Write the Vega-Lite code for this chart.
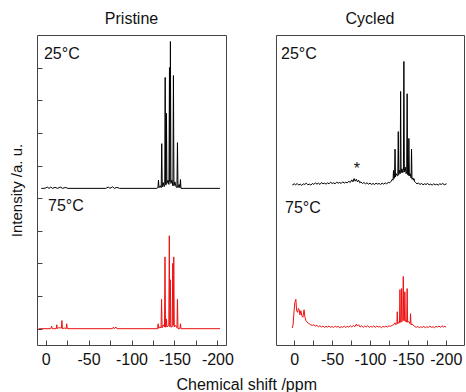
{
  "$schema": "https://vega.github.io/schema/vega-lite/v6.json",
  "padding": {"left": 9, "top": 10, "right": 1, "bottom": 0},
  "background": "white",
  "config": {
    "font": "Liberation Sans",
    "view": {"stroke": "#444", "strokeWidth": 1},
    "title": {"fontSize": 16, "fontWeight": "normal", "color": "#111", "offset": 8},
    "axis": {"domain": false, "grid": false, "tickColor": "#444", "tickSize": -5, "labelFontSize": 16, "labelColor": "#111", "titleFontSize": 15, "titleFontWeight": "normal", "titleColor": "#111", "labelFlush": false, "labelOverlap": false}
  },
  "title": {"text": "Chemical shift /ppm", "orient": "bottom", "anchor": "middle", "fontSize": 16, "fontWeight": "normal", "color": "#111", "offset": 9, "dx": 10},
  "spacing": 41,
  "datasets": {
    "P25": [{"x":5,"y":4.3},{"x":2,"y":4.3},{"x":0,"y":4.31},{"x":-2,"y":4.34},{"x":-4,"y":4.3},{"x":-6,"y":4.34},{"x":-8,"y":4.3},{"x":-11,"y":4.33},{"x":-14,"y":4.3},{"x":-17,"y":4.34},{"x":-20,"y":4.3},{"x":-23,"y":4.33},{"x":-26,"y":4.3},{"x":-70,"y":4.3},{"x":-73,"y":4.34},{"x":-75,"y":4.3},{"x":-78,"y":4.35},{"x":-80,"y":4.3},{"x":-83,"y":4.33},{"x":-86,"y":4.3},{"x":-129,"y":4.3},{"x":-130.8,"y":4.32},{"x":-131.4,"y":4.55},{"x":-132,"y":4.32},{"x":-133.5,"y":4.38},{"x":-134.6,"y":4.32},{"x":-135.2,"y":5.67},{"x":-135.8,"y":4.35},{"x":-136.8,"y":4.48},{"x":-138,"y":4.35},{"x":-138.7,"y":4.4},{"x":-139.2,"y":7.7},{"x":-139.7,"y":4.42},{"x":-140.2,"y":4.4},{"x":-140.7,"y":6.6},{"x":-141.2,"y":4.45},{"x":-142.5,"y":4.55},{"x":-143.6,"y":4.42},{"x":-144.2,"y":8.0},{"x":-144.7,"y":4.5},{"x":-145.3,"y":8.8},{"x":-145.9,"y":4.45},{"x":-147,"y":4.55},{"x":-148.2,"y":4.38},{"x":-148.8,"y":7.76},{"x":-149.4,"y":4.38},{"x":-150.5,"y":4.5},{"x":-152,"y":4.34},{"x":-152.9,"y":4.33},{"x":-153.5,"y":5.7},{"x":-154.1,"y":4.32},{"x":-155.5,"y":4.42},{"x":-156.4,"y":4.32},{"x":-157,"y":4.57},{"x":-157.6,"y":4.3},{"x":-160,"y":4.3},{"x":-203,"y":4.3}],
    "P75": [{"x":8,"y":0},{"x":-6,"y":0},{"x":-7,"y":0.08},{"x":-7.8,"y":0},{"x":-12.4,"y":0},{"x":-13,"y":0.12},{"x":-13.6,"y":0},{"x":-15,"y":0.03},{"x":-18.4,"y":0.02},{"x":-19,"y":0.25},{"x":-19.6,"y":0},{"x":-22,"y":0.02},{"x":-24,"y":0},{"x":-24.6,"y":0.15},{"x":-25.2,"y":0},{"x":-78,"y":0},{"x":-79,"y":0.05},{"x":-80,"y":0},{"x":-82,"y":0.05},{"x":-83,"y":0},{"x":-130.4,"y":0},{"x":-131,"y":0.15},{"x":-131.6,"y":0.01},{"x":-133,"y":0.06},{"x":-134.4,"y":0.02},{"x":-135,"y":0.9},{"x":-135.6,"y":0.03},{"x":-137,"y":0.12},{"x":-138.4,"y":0.05},{"x":-139,"y":2.2},{"x":-139.6,"y":0.05},{"x":-140.2,"y":0.05},{"x":-140.7,"y":0.3},{"x":-141.3,"y":0.05},{"x":-143.4,"y":0.1},{"x":-144,"y":2.85},{"x":-144.6,"y":0.06},{"x":-145.2,"y":1.5},{"x":-145.8,"y":0.05},{"x":-147.4,"y":0.06},{"x":-148,"y":2.0},{"x":-148.6,"y":0.1},{"x":-149.2,"y":2.2},{"x":-149.8,"y":0.05},{"x":-151,"y":0.1},{"x":-152.9,"y":0.03},{"x":-153.5,"y":0.9},{"x":-154.1,"y":0},{"x":-156.4,"y":0},{"x":-157,"y":0.15},{"x":-157.6,"y":0},{"x":-203,"y":0}],
    "C25": [{"x":2.6,"y":4.40},{"x":0,"y":4.44},{"x":-2,"y":4.41},{"x":-4,"y":4.45},{"x":-6,"y":4.40},{"x":-8,"y":4.43},{"x":-10,"y":4.39},{"x":-12,"y":4.44},{"x":-14,"y":4.42},{"x":-16,"y":4.46},{"x":-18,"y":4.41},{"x":-20,"y":4.43},{"x":-22,"y":4.40},{"x":-24,"y":4.45},{"x":-26,"y":4.42},{"x":-28,"y":4.47},{"x":-30,"y":4.43},{"x":-32,"y":4.46},{"x":-34,"y":4.42},{"x":-36,"y":4.48},{"x":-38,"y":4.44},{"x":-40,"y":4.46},{"x":-42,"y":4.43},{"x":-44,"y":4.47},{"x":-46,"y":4.44},{"x":-48,"y":4.49},{"x":-50,"y":4.45},{"x":-52,"y":4.47},{"x":-54,"y":4.44},{"x":-56,"y":4.49},{"x":-58,"y":4.46},{"x":-60,"y":4.48},{"x":-62,"y":4.45},{"x":-64,"y":4.50},{"x":-66,"y":4.46},{"x":-68,"y":4.49},{"x":-70,"y":4.47},{"x":-72,"y":4.52},{"x":-74,"y":4.48},{"x":-76,"y":4.56},{"x":-77.5,"y":4.50},{"x":-79,"y":4.6},{"x":-80.5,"y":4.52},{"x":-82,"y":4.58},{"x":-83.5,"y":4.5},{"x":-85,"y":4.55},{"x":-86.5,"y":4.47},{"x":-88,"y":4.5},{"x":-90,"y":4.45},{"x":-92,"y":4.48},{"x":-94,"y":4.44},{"x":-96,"y":4.47},{"x":-98,"y":4.43},{"x":-100,"y":4.46},{"x":-102,"y":4.42},{"x":-104,"y":4.45},{"x":-106,"y":4.42},{"x":-108,"y":4.46},{"x":-110,"y":4.43},{"x":-112,"y":4.45},{"x":-114,"y":4.42},{"x":-116,"y":4.46},{"x":-118,"y":4.43},{"x":-120,"y":4.47},{"x":-122,"y":4.44},{"x":-124,"y":4.48},{"x":-126,"y":4.47},{"x":-128,"y":4.52},{"x":-129.5,"y":4.58},{"x":-130.4,"y":4.55},{"x":-131,"y":4.85},{"x":-131.6,"y":4.6},{"x":-132.4,"y":4.62},{"x":-133,"y":5.5},{"x":-133.6,"y":4.65},{"x":-134.5,"y":4.75},{"x":-135.5,"y":4.7},{"x":-136.7,"y":4.68},{"x":-137.3,"y":6.04},{"x":-137.9,"y":4.72},{"x":-138.8,"y":4.85},{"x":-139.8,"y":4.75},{"x":-140.4,"y":7.27},{"x":-141,"y":4.78},{"x":-142.2,"y":4.9},{"x":-143.2,"y":4.78},{"x":-144.1,"y":4.85},{"x":-144.7,"y":8.19},{"x":-145.3,"y":4.8},{"x":-146.5,"y":4.95},{"x":-147.6,"y":4.75},{"x":-148.4,"y":4.8},{"x":-149,"y":7.2},{"x":-149.6,"y":4.72},{"x":-150.7,"y":4.7},{"x":-151.3,"y":5.83},{"x":-151.9,"y":4.68},{"x":-153,"y":4.75},{"x":-154.2,"y":4.62},{"x":-154.8,"y":5.5},{"x":-155.4,"y":4.58},{"x":-156.5,"y":4.62},{"x":-157.2,"y":4.55},{"x":-158,"y":4.6},{"x":-159,"y":4.5},{"x":-160,"y":4.48},{"x":-162,"y":4.44},{"x":-164,"y":4.46},{"x":-166,"y":4.42},{"x":-168,"y":4.45},{"x":-170,"y":4.41},{"x":-172,"y":4.44},{"x":-174,"y":4.42},{"x":-176,"y":4.45},{"x":-178,"y":4.41},{"x":-180,"y":4.43},{"x":-182,"y":4.40},{"x":-184,"y":4.44},{"x":-186,"y":4.41},{"x":-188,"y":4.43},{"x":-190,"y":4.40},{"x":-192,"y":4.44},{"x":-194,"y":4.42},{"x":-196,"y":4.45},{"x":-198,"y":4.41},{"x":-201,"y":4.44}],
    "C75": [{"x":2.6,"y":0.02},{"x":1.5,"y":0.12},{"x":0.5,"y":0.45},{"x":-0.8,"y":0.8},{"x":-2.2,"y":0.9},{"x":-3.2,"y":0.55},{"x":-4.5,"y":0.5},{"x":-5.5,"y":0.62},{"x":-6.6,"y":0.58},{"x":-7.6,"y":0.42},{"x":-8.8,"y":0.55},{"x":-10,"y":0.4},{"x":-11.5,"y":0.35},{"x":-13,"y":0.58},{"x":-14.2,"y":0.35},{"x":-15.5,"y":0.25},{"x":-17,"y":0.2},{"x":-18.5,"y":0.17},{"x":-20,"y":0.15},{"x":-22,"y":0.12},{"x":-24,"y":0.1},{"x":-26,"y":0.12},{"x":-28,"y":0.08},{"x":-30,"y":0.1},{"x":-32,"y":0.06},{"x":-34,"y":0.09},{"x":-36,"y":0.05},{"x":-38,"y":0.08},{"x":-40,"y":0.04},{"x":-42,"y":0.07},{"x":-44,"y":0.05},{"x":-46,"y":0.08},{"x":-48,"y":0.04},{"x":-50,"y":0.07},{"x":-52,"y":0.03},{"x":-54,"y":0.08},{"x":-56,"y":0.05},{"x":-58,"y":0.07},{"x":-60,"y":0.03},{"x":-62,"y":0.06},{"x":-64,"y":0.04},{"x":-66,"y":0.08},{"x":-68,"y":0.04},{"x":-70,"y":0.07},{"x":-72,"y":0.05},{"x":-74,"y":0.09},{"x":-76,"y":0.05},{"x":-78,"y":0.1},{"x":-80,"y":0.06},{"x":-82,"y":0.14},{"x":-83.5,"y":0.08},{"x":-85,"y":0.12},{"x":-87,"y":0.05},{"x":-89,"y":0.09},{"x":-91,"y":0.04},{"x":-93,"y":0.08},{"x":-95,"y":0.05},{"x":-97,"y":0.09},{"x":-99,"y":0.04},{"x":-101,"y":0.07},{"x":-103,"y":0.05},{"x":-105,"y":0.09},{"x":-107,"y":0.04},{"x":-109,"y":0.08},{"x":-111,"y":0.05},{"x":-113,"y":0.07},{"x":-115,"y":0.03},{"x":-117,"y":0.07},{"x":-119,"y":0.05},{"x":-121,"y":0.08},{"x":-123,"y":0.05},{"x":-125,"y":0.09},{"x":-127,"y":0.07},{"x":-129,"y":0.1},{"x":-131,"y":0.12},{"x":-133,"y":0.18},{"x":-134,"y":0.12},{"x":-135.4,"y":0.15},{"x":-136,"y":0.52},{"x":-136.6,"y":0.15},{"x":-138,"y":0.2},{"x":-138.9,"y":0.18},{"x":-139.5,"y":1.2},{"x":-140.1,"y":0.2},{"x":-141.1,"y":0.2},{"x":-141.7,"y":1.23},{"x":-142.3,"y":0.22},{"x":-143.3,"y":0.25},{"x":-143.9,"y":1.6},{"x":-144.5,"y":0.25},{"x":-145.4,"y":0.25},{"x":-146,"y":1.13},{"x":-146.6,"y":0.22},{"x":-147.8,"y":0.25},{"x":-148.4,"y":0.2},{"x":-149,"y":1.23},{"x":-149.6,"y":0.2},{"x":-151,"y":0.22},{"x":-152.9,"y":0.15},{"x":-153.5,"y":0.46},{"x":-154.1,"y":0.12},{"x":-155.5,"y":0.15},{"x":-157,"y":0.1},{"x":-159,"y":0.07},{"x":-161,"y":0.04},{"x":-163,"y":0.07},{"x":-165,"y":0.03},{"x":-167,"y":0.06},{"x":-169,"y":0.04},{"x":-171,"y":0.07},{"x":-173,"y":0.03},{"x":-175,"y":0.06},{"x":-177,"y":0.04},{"x":-179,"y":0.08},{"x":-181,"y":0.04},{"x":-183,"y":0.06},{"x":-185,"y":0.03},{"x":-187,"y":0.07},{"x":-189,"y":0.05},{"x":-191,"y":0.08},{"x":-193,"y":0.04},{"x":-195,"y":0.09},{"x":-197,"y":0.05},{"x":-199,"y":0.08},{"x":-200,"y":0.04}],
    "LP": [{"x":1.9,"y":8.42,"text":"25°C"},{"x":-2.8,"y":3.76,"text":"75°C"}],
    "LC": [{"x":17.4,"y":8.42,"text":"25°C"},{"x":12.1,"y":3.7,"text":"75°C"},{"x":-78.5,"y":4.9,"text":"*"}]
  },
  "hconcat": [
    {
      "title": "Pristine",
      "width": 189,
      "height": 310,
      "encoding": {
        "x": {"field": "x", "type": "quantitative", "scale": {"domain": [10, -210], "nice": false, "zero": false},
              "axis": {"values": [0, -25, -50, -75, -100, -125, -150, -175, -200], "labelExpr": "datum.value % 50 == 0 ? toString(datum.value) : ''", "labelPadding": 11, "title": null}},
        "y": {"field": "y", "type": "quantitative", "scale": {"domain": [-0.5, 9], "nice": false, "zero": false},
              "axis": {"values": [0, 1, 2, 3, 4, 5, 6, 7, 8], "labels": false, "title": "Intensity /a. u.", "titlePadding": 12}}
      },
      "layer": [
        {"data": {"name": "P25"}, "mark": {"type": "line", "color": "#000", "strokeWidth": 1}},
        {"data": {"name": "P75"}, "mark": {"type": "line", "color": "#ee1111", "strokeWidth": 1}},
        {"data": {"name": "LP"}, "mark": {"type": "text", "align": "left", "baseline": "middle", "fontSize": 16, "color": "#111"}, "encoding": {"text": {"field": "text"}}}
      ]
    },
    {
      "title": "Cycled",
      "width": 188,
      "height": 310,
      "encoding": {
        "x": {"field": "x", "type": "quantitative", "scale": {"domain": [24, -224], "nice": false, "zero": false},
              "axis": {"values": [0, -25, -50, -75, -100, -125, -150, -175, -200], "labelExpr": "datum.value % 50 == 0 ? toString(datum.value) : ''", "labelPadding": 11, "title": null}},
        "y": {"field": "y", "type": "quantitative", "scale": {"domain": [-0.5, 9], "nice": false, "zero": false}, "axis": null}
      },
      "layer": [
        {"data": {"name": "C25"}, "mark": {"type": "line", "color": "#000", "strokeWidth": 1}},
        {"data": {"name": "C75"}, "mark": {"type": "line", "color": "#ee1111", "strokeWidth": 1}},
        {"data": {"name": "LC"}, "mark": {"type": "text", "align": "left", "baseline": "middle", "fontSize": 16, "color": "#111"}, "encoding": {"text": {"field": "text"}}}
      ]
    }
  ]
}
